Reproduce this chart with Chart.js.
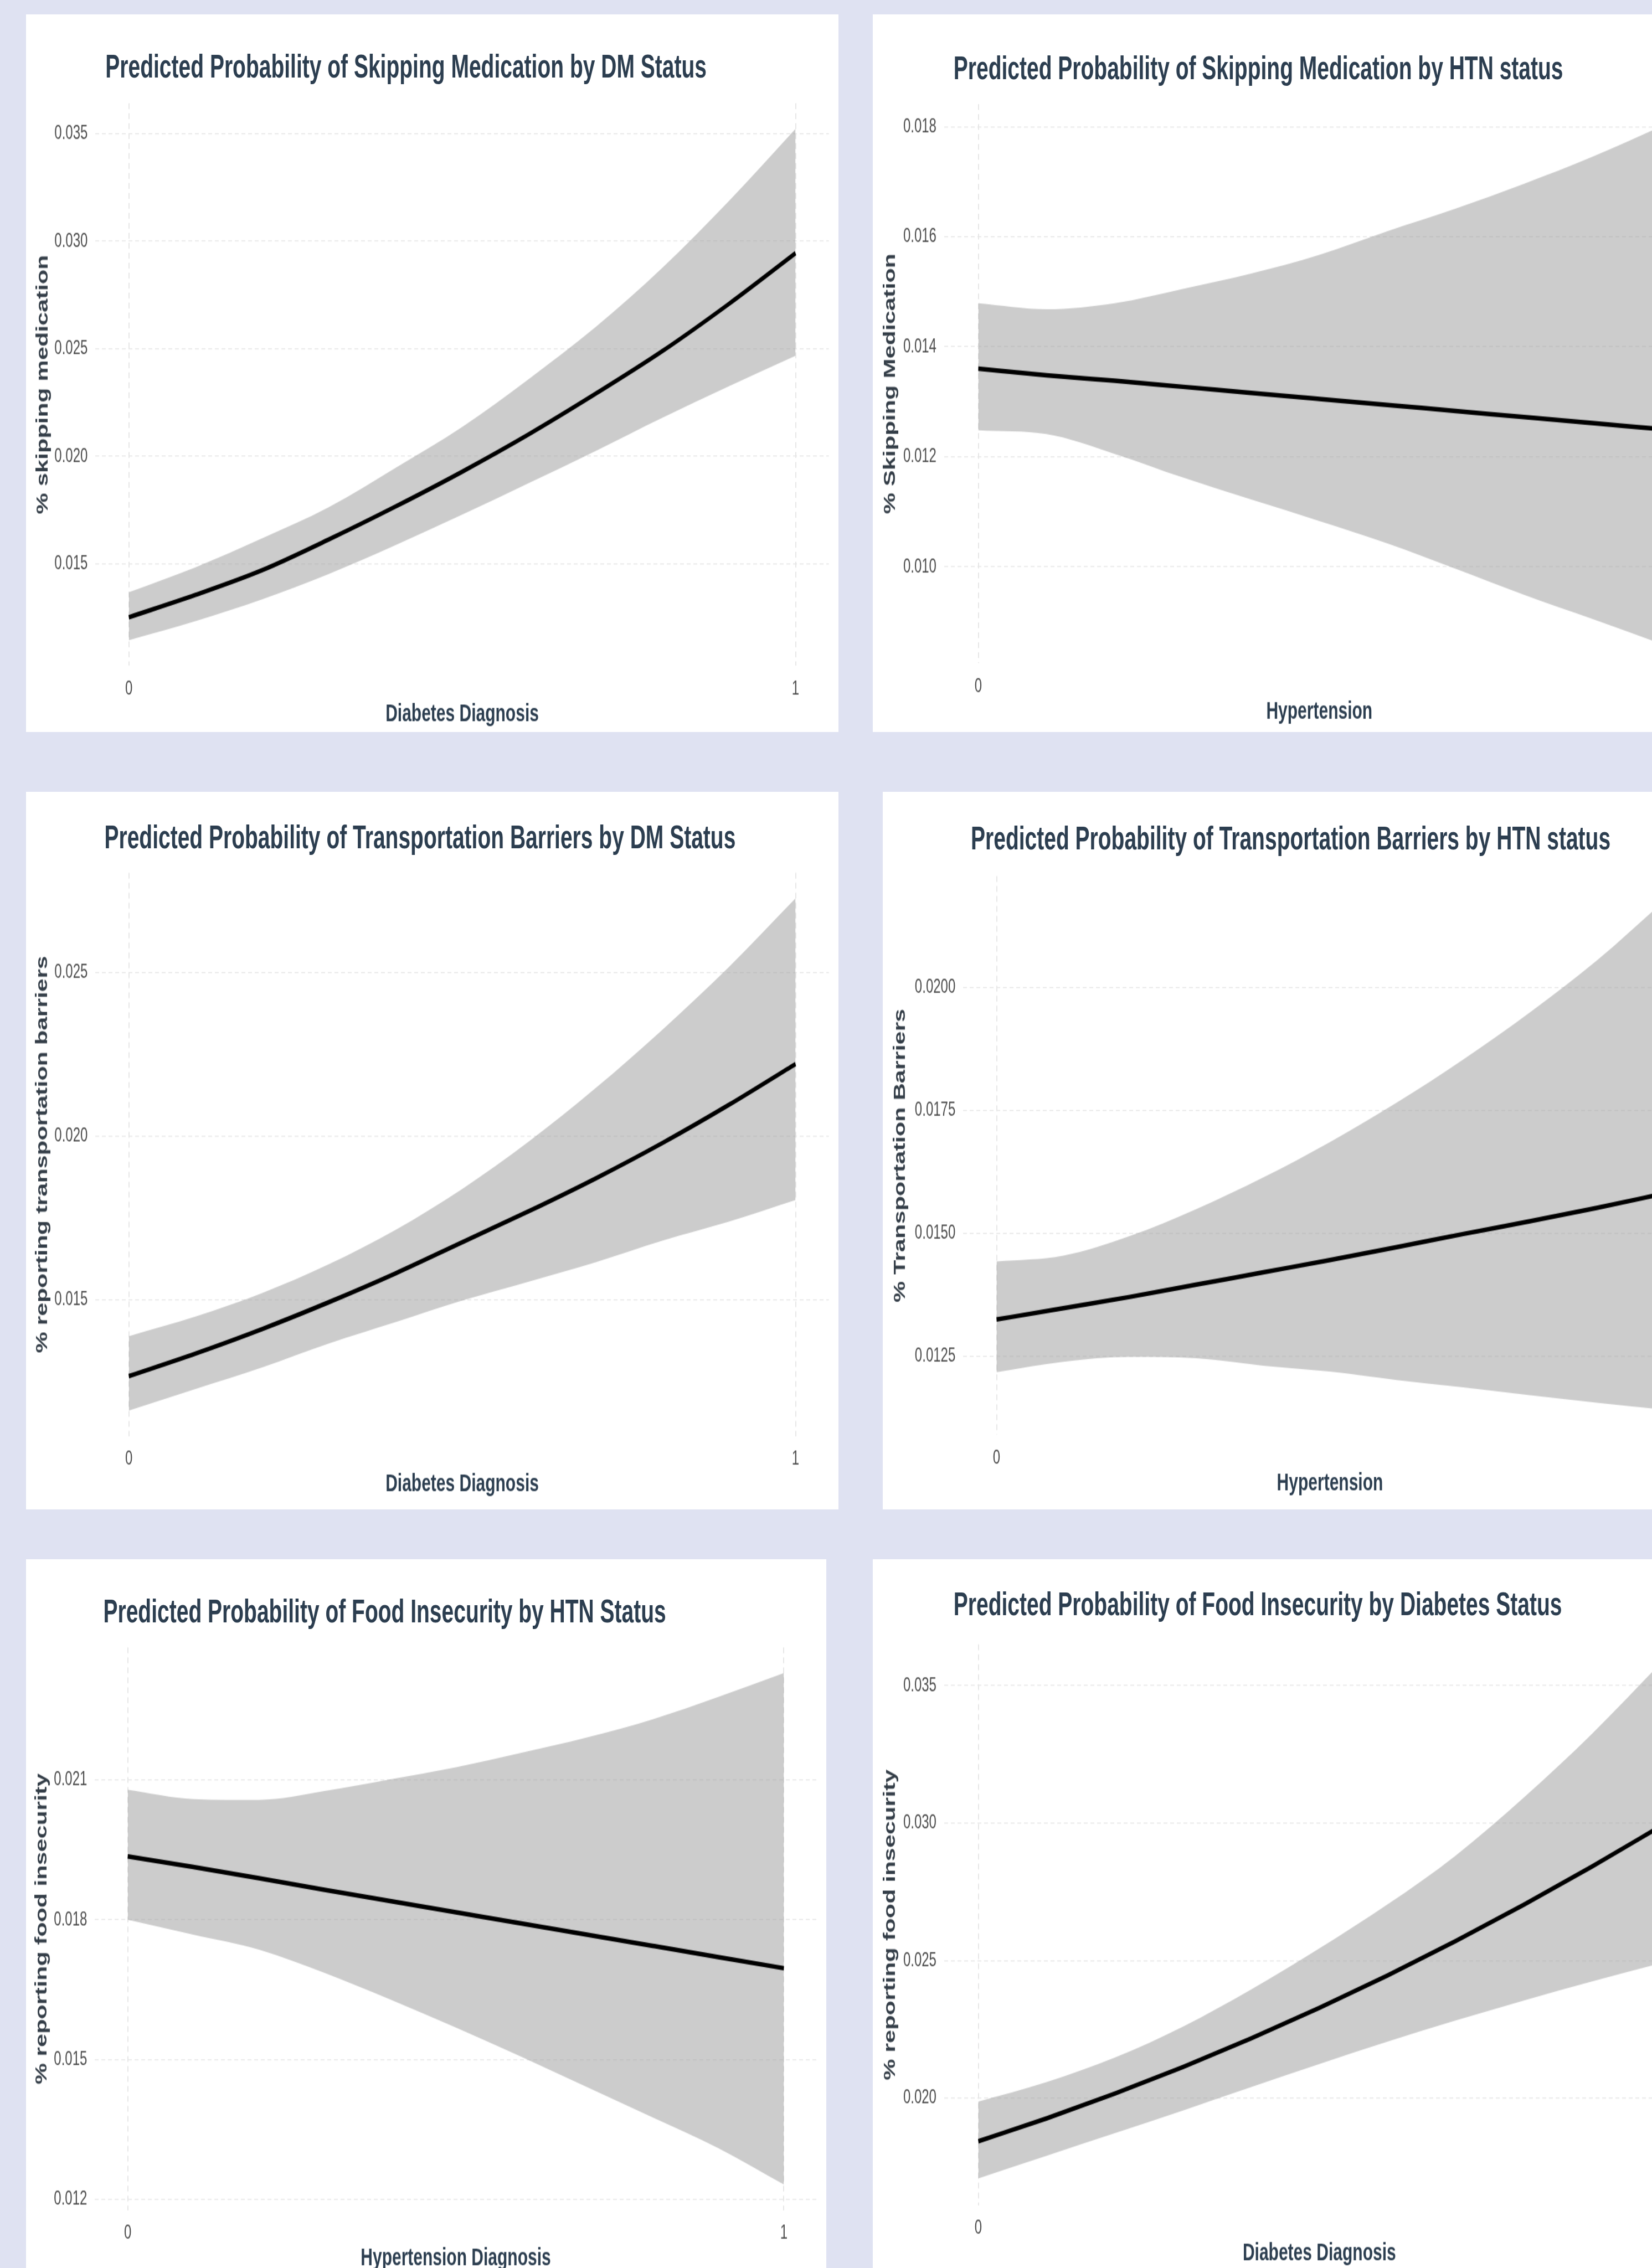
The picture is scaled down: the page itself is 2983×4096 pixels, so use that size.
<!DOCTYPE html>
<html>
<head>
<meta charset="utf-8">
<title>Predicted probabilities by DM and HTN status</title>
<script src="https://cdn.jsdelivr.net/npm/chart.js@4.4.1/dist/chart.umd.min.js"></script>
<style>
  html, body { margin: 0; padding: 0; }
  body {
    width: 2983px; height: 4096px; overflow: hidden; position: relative;
    background: #dfe2f2;
    font-family: "Liberation Sans", Arial, Helvetica, sans-serif;
  }
  .panel { position: absolute; background: #fff; transform-origin: 0 0; overflow: hidden; }
  .panel canvas { position: absolute; left: 0; top: 0; }
  .ttl {
    position: absolute; white-space: nowrap; font-weight: bold;
    font-size: 39px; line-height: 1; color: #2c3e50;
  }
</style>
</head>
<body>
<script>
// predictions are read at these x positions (0 = no diagnosis, 1 = diagnosis)
var xSteps = [0, 0.1, 0.2, 0.3, 0.4, 0.5, 0.6, 0.7, 0.8, 0.9, 1];
var xTickLabels = ['0', '1'];

// skipping medication by DM status
var skipDmFit  = [0.01251, 0.01355, 0.01470, 0.01613, 0.01766, 0.01928, 0.02102, 0.02290, 0.02488, 0.02708, 0.02944];
var skipDmLow  = [0.01144, 0.01233, 0.01334, 0.01452, 0.01586, 0.01728, 0.01875, 0.02024, 0.02178, 0.02325, 0.02467];
var skipDmHigh = [0.01367, 0.01483, 0.01618, 0.01763, 0.01946, 0.02136, 0.02359, 0.02600, 0.02875, 0.03186, 0.03522];
var skipDmTicks = ['0.015', '0.020', '0.025', '0.030', '0.035'];

// skipping medication by HTN status
var skipHtnFit  = [0.01360, 0.01348, 0.01338, 0.01327, 0.01316, 0.01305, 0.01294, 0.01283, 0.01272, 0.01261, 0.01250];
var skipHtnLow  = [0.01248, 0.01241, 0.01205, 0.01162, 0.01122, 0.01083, 0.01042, 0.00996, 0.00949, 0.00905, 0.00860];
var skipHtnHigh = [0.01479, 0.01468, 0.01479, 0.01505, 0.01533, 0.01567, 0.01610, 0.01651, 0.01696, 0.01745, 0.01800];
var skipHtnTicks = ['0.010', '0.012', '0.014', '0.016', '0.018'];

// transportation barriers by DM status
var transDmFit  = [0.01266, 0.01335, 0.01410, 0.01492, 0.01580, 0.01675, 0.01770, 0.01870, 0.01978, 0.02095, 0.02220];
var transDmLow  = [0.01161, 0.01227, 0.01293, 0.01366, 0.01431, 0.01497, 0.01555, 0.01614, 0.01680, 0.01738, 0.01804];
var transDmHigh = [0.01388, 0.01448, 0.01520, 0.01608, 0.01713, 0.01838, 0.01983, 0.02146, 0.02324, 0.02516, 0.02726];
var transDmTicks = ['0.015', '0.020', '0.025'];

// transportation barriers by HTN status
var transHtnFit  = [0.01325, 0.01348, 0.01371, 0.01396, 0.01421, 0.01446, 0.01472, 0.01499, 0.01525, 0.01552, 0.01581];
var transHtnLow  = [0.01218, 0.01239, 0.01249, 0.01246, 0.01231, 0.01219, 0.01202, 0.01187, 0.01171, 0.01156, 0.01142];
var transHtnHigh = [0.01443, 0.01455, 0.01495, 0.01550, 0.01614, 0.01686, 0.01766, 0.01854, 0.01950, 0.02055, 0.02175];
var transHtnTicks = ['0.0125', '0.0150', '0.0175', '0.0200'];

// food insecurity by HTN status
var foodHtnFit  = [0.01936, 0.01913, 0.01889, 0.01864, 0.01840, 0.01816, 0.01792, 0.01768, 0.01744, 0.01720, 0.01696];
var foodHtnLow  = [0.01800, 0.01768, 0.01736, 0.01686, 0.01629, 0.01569, 0.01506, 0.01441, 0.01376, 0.01310, 0.01232];
var foodHtnHigh = [0.02079, 0.02059, 0.02057, 0.02076, 0.02101, 0.02127, 0.02158, 0.02191, 0.02230, 0.02278, 0.02329];
var foodHtnTicks = ['0.012', '0.015', '0.018', '0.021'];

// food insecurity by diabetes status
var foodDmFit  = [0.01843, 0.01926, 0.02016, 0.02113, 0.02217, 0.02328, 0.02446, 0.02571, 0.02703, 0.02842, 0.02988];
var foodDmLow  = [0.01708, 0.01790, 0.01872, 0.01955, 0.02040, 0.02124, 0.02205, 0.02282, 0.02355, 0.02424, 0.02490];
var foodDmHigh = [0.01987, 0.02058, 0.02147, 0.02260, 0.02395, 0.02544, 0.02704, 0.02882, 0.03093, 0.03325, 0.03580];
var foodDmTicks = ['0.020', '0.025', '0.030', '0.035'];

// the source picture is stretched vertically, so each panel is drawn flat and scaled by S
var K = 0.933;
var S = 1.5;
var KV = K / S;
var FONT = '"Liberation Sans", Arial, Helvetica, sans-serif';

// panel boxes, measured on the full size picture (x, y = panel corner; the rest is relative to it)
var panels = [
  { title: 'Predicted Probability of Skipping Medication by DM Status',
    xTitle: 'Diabetes Diagnosis', yTitle: '% skipping medication',
    fit: skipDmFit, low: skipDmLow, high: skipDmHigh, ticks: skipDmTicks, yMin: 0.01025, yMax: 0.03641,
    x: 50.5, y: 27.7, w: 1572.1, h: 1389, cl: 134.4, cr: 1553.5, ct: 172.1, cb: 1261, tx: 153.5, tcap: 78.3, yt: 33.5 },
  { title: 'Predicted Probability of Skipping Medication by HTN status',
    xTitle: 'Hypertension', yTitle: '% Skipping Medication',
    fit: skipHtnFit, low: skipHtnLow, high: skipHtnHigh, ticks: skipHtnTicks, yMin: 0.00824, yMax: 0.01841,
    x: 1689.5, y: 27.7, w: 1608.8, h: 1389, cl: 138.2, cr: 1590.2, ct: 173.7, cb: 1256.3, tx: 155.9, tcap: 81.4, yt: 34.5 },
  { title: 'Predicted Probability of Transportation Barriers by DM Status',
    xTitle: 'Diabetes Diagnosis', yTitle: '% reporting transportation barriers',
    fit: transDmFit, low: transDmLow, high: transDmHigh, ticks: transDmTicks, yMin: 0.01083, yMax: 0.02804,
    x: 50.5, y: 1532.4, w: 1572.1, h: 1389.6, cl: 134.4, cr: 1553.5, ct: 156.9, cb: 1247, tx: 151.5, tcap: 66.5, yt: 32 },
  { title: 'Predicted Probability of Transportation Barriers by HTN status',
    xTitle: 'Hypertension', yTitle: '% Transportation Barriers',
    fit: transHtnFit, low: transHtnLow, high: transHtnHigh, ticks: transHtnTicks, yMin: 0.0109, yMax: 0.02227,
    x: 1709, y: 1532.4, w: 1593.3, h: 1389.6, cl: 155.7, cr: 1574.7, ct: 163.1, cb: 1245.1, tx: 169.9, tcap: 67.5, yt: 34.7 },
  { title: 'Predicted Probability of Food Insecurity by HTN Status',
    xTitle: 'Hypertension Diagnosis', yTitle: '% reporting food insecurity',
    fit: foodHtnFit, low: foodHtnLow, high: foodHtnHigh, ticks: foodHtnTicks, yMin: 0.01177, yMax: 0.02384,
    x: 50.5, y: 3017.8, w: 1549, h: 1389, cl: 133.3, cr: 1530.4, ct: 170.8, cb: 1259.9, tx: 149.4, tcap: 79.1, yt: 31 },
  { title: 'Predicted Probability of Food Insecurity by Diabetes Status',
    xTitle: 'Diabetes Diagnosis', yTitle: '% reporting food insecurity',
    fit: foodDmFit, low: foodDmLow, high: foodDmHigh, ticks: foodDmTicks, yMin: 0.0161, yMax: 0.0365,
    x: 1689.5, y: 3017.8, w: 1608.8, h: 1389, cl: 138.2, cr: 1590.2, ct: 164.6, cb: 1250.6, tx: 155.9, tcap: 63.8, yt: 34.5 }
];

function points(values) {
  return xSteps.map(function(x, i) { return { x: x, y: values[i] }; });
}

function makePanel(p) {
  var W = Math.round(p.w * K);
  var H = Math.round(p.h * KV);

  var wrap = document.createElement('div');
  wrap.className = 'panel';
  wrap.style.left = (p.x * K) + 'px';
  wrap.style.top = (p.y * K) + 'px';
  wrap.style.width = W + 'px';
  wrap.style.height = H + 'px';
  wrap.style.transform = 'scaleY(' + S + ')';

  var ttl = document.createElement('div');
  ttl.className = 'ttl';
  ttl.textContent = p.title;
  ttl.style.left = (p.tx * K) + 'px';
  ttl.style.top = (p.tcap * KV - 6) + 'px';

  var cv = document.createElement('canvas');
  cv.width = W;
  cv.height = H;
  wrap.appendChild(cv);
  wrap.appendChild(ttl);
  document.body.appendChild(wrap);

  var tickFont = { family: FONT, size: 24 };
  var yTickValues = p.ticks.map(Number);

  return new Chart(cv.getContext('2d'), {
    type: 'line',
    data: {
      datasets: [
        { data: points(p.fit), borderColor: '#000', borderWidth: 5.5, pointRadius: 0,
          fill: false, cubicInterpolationMode: 'monotone' },
        { data: points(p.high), borderWidth: 0, borderColor: 'rgba(0,0,0,0)', pointRadius: 0,
          fill: '+1', backgroundColor: 'rgba(153,153,153,0.5)', cubicInterpolationMode: 'monotone' },
        { data: points(p.low), borderWidth: 0, borderColor: 'rgba(0,0,0,0)', pointRadius: 0,
          fill: false, cubicInterpolationMode: 'monotone' }
      ]
    },
    options: {
      responsive: false,
      animation: false,
      events: [],
      layout: { padding: { left: 8, right: (p.w - p.cr) * K, top: p.ct * KV, bottom: 0 } },
      plugins: {
        legend: { display: false },
        title: { display: false },
        tooltip: { enabled: false }
      },
      scales: {
        x: {
          type: 'linear', min: -0.05, max: 1.05,
          afterBuildTicks: function(s) { s.ticks = [{ value: 0 }, { value: 1 }]; },
          afterFit: function(s) { s.height = H - p.cb * KV; },
          ticks: {
            font: tickFont, color: '#4d4d4d', padding: 13.5, maxRotation: 0,
            callback: function(v, i) { return xTickLabels[i]; }
          },
          grid: { color: '#e6e6e6', lineWidth: 1.9, drawTicks: false },
          border: { display: false, dash: [7, 5] },
          title: {
            display: true, text: p.xTitle, color: '#2c3e50',
            font: { family: FONT, size: 30, weight: 'bold' },
            padding: { top: 0, bottom: H - 18 - (p.cb + 93.5) * KV }
          }
        },
        y: {
          min: p.yMin, max: p.yMax,
          afterBuildTicks: function(s) { s.ticks = yTickValues.map(function(v) { return { value: v }; }); },
          afterFit: function(s) { s.width = p.cl * K - 8; },
          ticks: {
            font: tickFont, color: '#4d4d4d', padding: 14,
            callback: function(v, i) { return p.ticks[i]; }
          },
          grid: { color: '#e6e6e6', lineWidth: 1.3, drawTicks: false },
          border: { display: false, dash: [7, 5] },
          title: {
            display: true, text: p.yTitle, color: '#333d47',
            font: { family: FONT, size: 28.8, weight: 'bold' },
            padding: { top: p.yt * K - 8 - 17.3, bottom: 0 }
          }
        }
      }
    }
  });
}

panels.forEach(makePanel);
</script>
</body>
</html>
